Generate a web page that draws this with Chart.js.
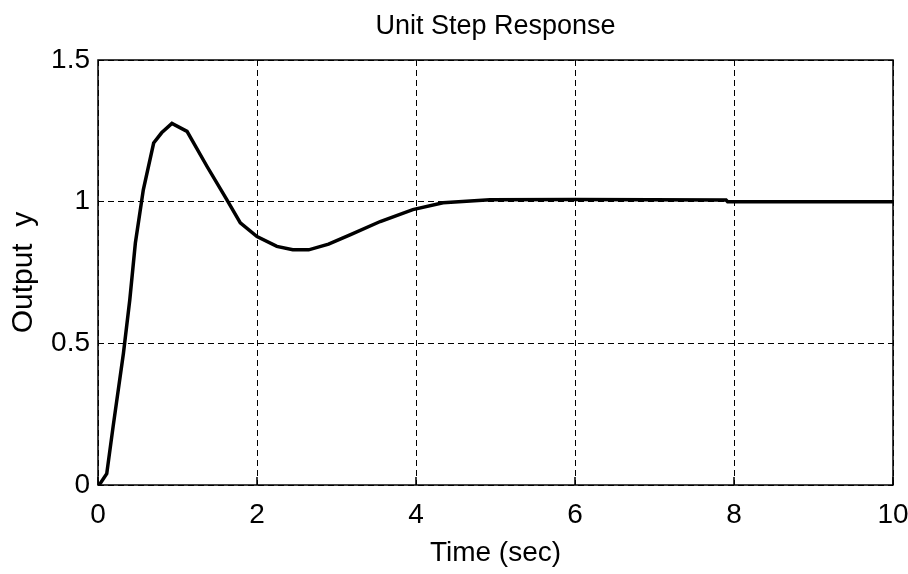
<!DOCTYPE html>
<html lang="en">
<head>
  <meta charset="UTF-8">
  <title>Unit Step Response</title>
  <script src="https://cdn.jsdelivr.net/npm/chart.js"></script>
  <style>
    body {
      margin: 0;
      background: #ffffff;
    }

    #wrap {
      width: 908px;
      height: 574px;
    }
  </style>
</head>
<body>

  <div id="wrap">
    <canvas id="stepChart" width="908" height="574"></canvas>
  </div>

  <script>
    // time (sec) and output y
    const timeSec = [0, 0.03, 0.11, 0.19, 0.32, 0.40, 0.47, 0.57, 0.70, 0.80, 0.93, 1.12, 1.37, 1.62, 1.79,
                     2.0, 2.25, 2.45, 2.65, 2.9, 3.17, 3.55, 3.96, 4.34, 4.93, 6.0, 7.9, 7.92, 10];
    const outputY = [0, 0.006, 0.04, 0.206, 0.465, 0.654, 0.854, 1.042, 1.207, 1.243, 1.276, 1.248, 1.125, 1.007, 0.925,
                     0.877, 0.842, 0.83, 0.83, 0.85, 0.883, 0.930, 0.972, 0.996, 1.007, 1.008, 1.006, 1.0, 1.0];
    const xTicks = [0, 2, 4, 6, 8, 10];
    const yTicks = [0, 0.5, 1, 1.5];

    const FONT = "'Liberation Sans Narrow', 'Arial Narrow', 'Liberation Sans', Arial, sans-serif";

    const points = timeSec.map((t, i) => ({ x: t, y: outputY[i] }));

    // solid frame round the plot and inward ticks on the bottom axis
    const boxPlugin = {
      id: 'box',
      afterDraw(chart) {
        const { ctx, chartArea: a, scales } = chart;
        ctx.save();
        ctx.strokeStyle = '#000';
        ctx.lineWidth = 1.5;
        ctx.setLineDash([]);
        ctx.strokeRect(a.left, a.top, a.right - a.left, a.bottom - a.top);
        xTicks.forEach(v => {
          const px = scales.x.getPixelForValue(v);
          ctx.beginPath();
          ctx.moveTo(px, a.bottom);
          ctx.lineTo(px, a.bottom - 8);
          ctx.stroke();
        });
        ctx.restore();
      }
    };

    const ctx = document.getElementById('stepChart').getContext('2d');

    const chart = new Chart(ctx, {
      type: 'line',
      data: {
        datasets: [{
          data: points,
          borderColor: '#000000',
          borderWidth: 3.5,
          pointRadius: 0,
          tension: 0,
          fill: false
        }]
      },
      options: {
        responsive: false,
        animation: false,
        layout: {
          padding: { left: 0, right: 15, top: 0, bottom: 0 }
        },
        plugins: {
          legend: { display: false },
          tooltip: { enabled: false },
          title: {
            display: true,
            text: 'Unit Step Response',
            color: '#000',
            fullSize: false,
            font: { family: FONT, size: 27, weight: 'normal', lineHeight: 1.2 },
            padding: { top: 10, bottom: 17.6 }
          }
        },
        scales: {
          x: {
            type: 'linear',
            min: 0,
            max: 10,
            afterFit(scale) {
              scale.height = 89;
              scale.paddingLeft = 0;
              scale.paddingRight = 0;
            },
            afterBuildTicks(scale) { scale.ticks = xTicks.map(v => ({ value: v })); },
            ticks: {
              color: '#000',
              padding: 13,
              font: { family: FONT, size: 28 },
              maxRotation: 0
            },
            grid: {
              color: '#000',
              lineWidth: 1,
              drawTicks: false
            },
            border: { display: false, dash: [6, 4] },
            title: {
              display: true,
              text: 'Time (sec)',
              color: '#000',
              font: { family: FONT, size: 28, lineHeight: 1.2 },
              padding: { top: 0, bottom: 4 }
            }
          },
          y: {
            min: 0,
            max: 1.5,
            afterFit(scale) { scale.width = 98; },
            afterBuildTicks(scale) { scale.ticks = yTicks.map(v => ({ value: v })); },
            ticks: {
              color: '#000',
              padding: 8,
              font: { family: FONT, size: 28 },
              callback: v => String(v)
            },
            grid: {
              color: '#000',
              lineWidth: 1,
              drawTicks: false
            },
            border: { display: false, dash: [6, 4] },
            title: {
              display: true,
              text: 'Output  y',
              color: '#000',
              font: { family: FONT, size: 30, lineHeight: 1.2 },
              padding: { top: 6, bottom: 0 }
            }
          }
        }
      },
      plugins: [boxPlugin]
    });
  </script>
</body>
</html>
